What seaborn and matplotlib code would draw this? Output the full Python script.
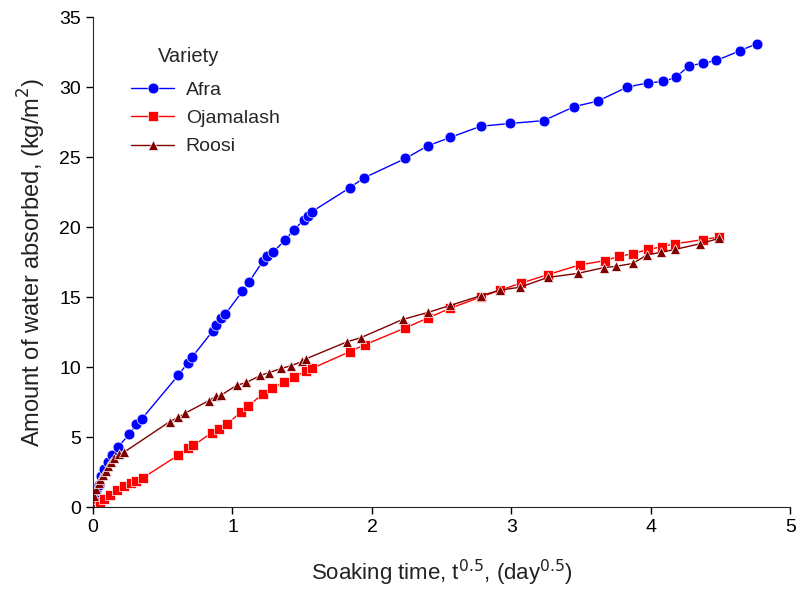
import pandas as pd
import numpy as np
import matplotlib
matplotlib.use("Agg")
import matplotlib.pyplot as plt
import seaborn as sns

# datos
varieties = ["Afra", "Ojamalash", "Roosi"]

afra_x = [0, 0.01, 0.02, 0.04, 0.06, 0.08, 0.11, 0.14, 0.18, 0.26, 0.31, 0.35,
          0.61, 0.68, 0.71, 0.86, 0.88, 0.92, 0.95, 1.07, 1.12, 1.22, 1.25, 1.29,
          1.38, 1.44, 1.51, 1.54, 1.57, 1.84, 1.94, 2.24, 2.40, 2.56, 2.78, 2.99,
          3.23, 3.45, 3.62, 3.83, 3.98, 4.09, 4.18, 4.27, 4.37, 4.47, 4.64, 4.76]
afra_y = [0, 0.7, 1.2, 1.6, 2.2, 2.7, 3.2, 3.7, 4.3, 5.2, 5.9, 6.3,
          9.4, 10.3, 10.7, 12.6, 13.0, 13.5, 13.8, 15.4, 16.1, 17.6, 17.9, 18.2,
          19.1, 19.8, 20.5, 20.8, 21.1, 22.8, 23.5, 24.9, 25.8, 26.4, 27.2, 27.4,
          27.6, 28.6, 29.0, 30.0, 30.3, 30.4, 30.7, 31.5, 31.7, 31.9, 32.6, 33.1]

oja_x = [0, 0.02, 0.05, 0.08, 0.12, 0.17, 0.22, 0.27, 0.31, 0.36, 0.61, 0.68,
         0.72, 0.85, 0.90, 0.96, 1.06, 1.11, 1.22, 1.28, 1.37, 1.44, 1.53, 1.57,
         1.84, 1.95, 2.24, 2.40, 2.56, 2.78, 2.92, 3.07, 3.26, 3.49, 3.67, 3.77,
         3.87, 3.98, 4.08, 4.17, 4.37, 4.49]
oja_y = [0, 0.2, 0.4, 0.6, 0.9, 1.2, 1.5, 1.7, 1.9, 2.1, 3.7, 4.2,
         4.4, 5.3, 5.6, 5.9, 6.8, 7.2, 8.1, 8.5, 8.9, 9.3, 9.7, 9.9,
         11.1, 11.6, 12.8, 13.5, 14.2, 15.0, 15.5, 16.0, 16.6, 17.3, 17.6, 17.9,
         18.1, 18.4, 18.6, 18.8, 19.1, 19.3]

roosi_x = [0, 0.01, 0.02, 0.04, 0.05, 0.07, 0.09, 0.11, 0.13, 0.15, 0.19, 0.22,
           0.55, 0.61, 0.66, 0.83, 0.88, 0.92, 1.03, 1.10, 1.20, 1.26, 1.35, 1.42,
           1.50, 1.53, 1.82, 1.92, 2.22, 2.40, 2.56, 2.78, 2.92, 3.06, 3.26, 3.48,
           3.66, 3.75, 3.87, 3.97, 4.07, 4.17, 4.35, 4.49]
roosi_y = [0, 0.8, 1.3, 1.7, 2.0, 2.3, 2.6, 2.9, 3.2, 3.5, 3.8, 3.9,
           6.1, 6.4, 6.7, 7.6, 7.9, 8.0, 8.7, 8.9, 9.4, 9.6, 9.9, 10.1,
           10.4, 10.6, 11.8, 12.1, 13.4, 13.9, 14.4, 15.1, 15.5, 15.7, 16.4, 16.7,
           17.1, 17.2, 17.4, 18.0, 18.2, 18.4, 18.8, 19.2]

colores = {"Afra": "#0000FF", "Ojamalash": "#FF0000", "Roosi": "#800000"}
marcadores = {"Afra": "o", "Ojamalash": "s", "Roosi": "^"}

df = pd.concat([
    pd.DataFrame({"t": afra_x, "w": afra_y, "Variety": "Afra"}),
    pd.DataFrame({"t": oja_x, "w": oja_y, "Variety": "Ojamalash"}),
    pd.DataFrame({"t": roosi_x, "w": roosi_y, "Variety": "Roosi"}),
], ignore_index=True)

sns.set_style("ticks")
plt.rcParams["font.family"] = ["Liberation Sans", "DejaVu Sans"]

fig = plt.figure(figsize=(7.98, 5.98), dpi=100)
ax = fig.add_axes([0.1165, 0.152, 0.874, 0.8195])

sns.lineplot(data=df, x="t", y="w", hue="Variety", style="Variety",
             hue_order=varieties, style_order=varieties,
             palette=colores, markers=marcadores, dashes=False,
             estimator=None, sort=False, markersize=7.8, markeredgewidth=0.5,
             linewidth=1, ax=ax)

ax.set_xlim(0, 5)
ax.set_ylim(0, 35)
ax.set_xticks([0, 1, 2, 3, 4, 5])
ax.set_yticks([0, 5, 10, 15, 20, 25, 30, 35])
ax.tick_params(labelsize=14, length=5, width=1, colors="black")
ax.set_xlabel("Soaking time, t$^{0.5}$, (day$^{0.5}$)", fontsize=16, color="#222222")
ax.set_ylabel("Amount of water absorbed, (kg/m$^2$)", fontsize=17, color="#222222")
ax.xaxis.labelpad = 16
ax.yaxis.labelpad = 8
sns.despine(ax=ax)

# leyenda sin marco y título aparte
ax.legend(loc="upper left", bbox_to_anchor=(0.03, 0.905), frameon=False,
          fontsize=14, handlelength=2.2, labelspacing=0.55, handletextpad=0.6)
ax.text(0.093, 0.9, "Variety", transform=ax.transAxes, fontsize=14.5,
        ha="left", va="bottom")

plt.savefig("out.png", dpi=100)
